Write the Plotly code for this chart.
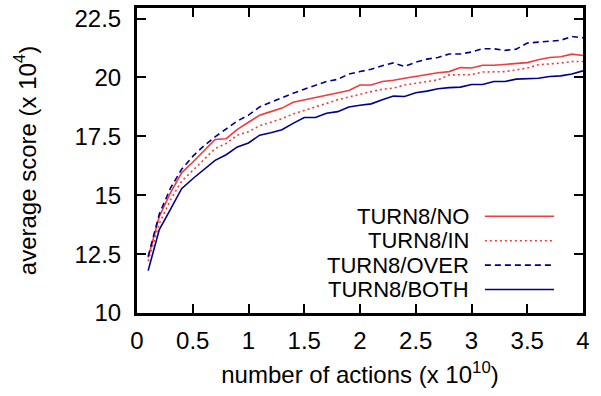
import plotly.graph_objects as go

x_vals = [round(0.1 * i, 1) for i in range(1, 41)]

turn8_no = [12.35, 14.1, 15.1, 15.95, 16.4, 16.9, 17.37, 17.4, 17.8, 18.1,
            18.4, 18.55, 18.7, 18.95, 19.05, 19.15, 19.25, 19.33, 19.45, 19.68,
            19.68, 19.83, 19.88, 19.97, 20.05, 20.15, 20.2, 20.25, 20.42, 20.4,
            20.52, 20.52, 20.55, 20.6, 20.63, 20.75, 20.85, 20.88, 20.99, 20.93]

turn8_in = [12.2, 13.8, 14.8, 15.6, 16.05, 16.5, 16.98, 17.2, 17.55, 17.7,
            17.95, 18.1, 18.25, 18.45, 18.6, 18.75, 18.92, 19.05, 19.17, 19.3,
            19.4, 19.5, 19.55, 19.68, 19.75, 19.82, 19.9, 20.11, 20.11, 20.12,
            20.23, 20.25, 20.25, 20.32, 20.4, 20.54, 20.57, 20.61, 20.68, 20.68]

turn8_over = [12.4, 14.2, 15.3, 16.1, 16.65, 17.1, 17.48, 17.8, 18.15, 18.4,
              18.75, 18.95, 19.15, 19.33, 19.5, 19.67, 19.83, 19.92, 20.15, 20.25,
              20.35, 20.5, 20.62, 20.47, 20.65, 20.78, 20.85, 21.0, 21.0, 21.08,
              21.22, 21.22, 21.15, 21.2, 21.46, 21.5, 21.53, 21.58, 21.74, 21.68]

turn8_both = [11.8, 13.54, 14.4, 15.28, 15.7, 16.1, 16.48, 16.72, 17.05, 17.22,
              17.55, 17.65, 17.78, 18.05, 18.3, 18.3, 18.48, 18.55, 18.75, 18.82,
              18.88, 19.05, 19.21, 19.19, 19.35, 19.42, 19.52, 19.57, 19.59, 19.7,
              19.7, 19.83, 19.83, 19.93, 19.95, 19.97, 20.04, 20.07, 20.15, 20.28]

series_names = ["TURN8/NO", "TURN8/IN", "TURN8/OVER", "TURN8/BOTH"]
series_values = [turn8_no, turn8_in, turn8_over, turn8_both]

x_tickvals = [0, 0.5, 1, 1.5, 2, 2.5, 3, 3.5, 4]
x_ticktext = ["0", "0.5", "1", "1.5", "2", "2.5", "3", "3.5", "4"]
y_tickvals = [10, 12.5, 15, 17.5, 20, 22.5]
y_ticktext = ["10", "12.5", "15", "17.5", "20", "22.5"]

RED = "#f03c3c"
BLUE = "#00008b"
styles = [
    dict(color=RED, dash="solid"),
    dict(color=RED, dash="2px,3px"),
    dict(color=BLUE, dash="6px,4px"),
    dict(color=BLUE, dash="solid"),
]

FONT = "Liberation Sans, Arial, Helvetica, sans-serif"
FS = 24
LEG_FS = 22

fig = go.Figure()
for name, vals, st in zip(series_names, series_values, styles):
    fig.add_trace(go.Scatter(x=x_vals, y=vals, mode="lines", name=name,
                             line=dict(color=st["color"], dash=st["dash"], width=1.6),
                             showlegend=False))

# manual gnuplot-style legend (text right, sample line to its right)
legend_rows_y = [0.317, 0.237, 0.157, 0.077]
for name, st, ly in zip(series_names, styles, legend_rows_y):
    fig.add_annotation(x=0.747, y=ly, xref="paper", yref="paper", text=name,
                       showarrow=False, xanchor="right", yanchor="middle",
                       borderpad=0,
                       font=dict(family=FONT, size=LEG_FS, color="black"))
    fig.add_shape(type="line", xref="paper", yref="paper",
                  x0=0.780, x1=0.935, y0=ly, y1=ly,
                  line=dict(color=st["color"], dash=st["dash"], width=1.6))

axis_common = dict(
    showline=True, linecolor="black", linewidth=3, mirror="ticks",
    ticks="inside", ticklen=9, tickwidth=1.5, tickcolor="black",
    showgrid=False, zeroline=False,
    tickfont=dict(family=FONT, size=FS, color="black"),
)

fig.update_xaxes(range=[0, 4], tickvals=x_tickvals, ticktext=x_ticktext,
                 ticklabelstandoff=4,
                 title=dict(text="number of actions (x 10<sup>10</sup>)",
                            font=dict(family=FONT, size=FS, color="black"),
                            standoff=14),
                 **axis_common)
fig.update_yaxes(range=[10, 22.95], tickvals=y_tickvals, ticktext=y_ticktext,
                 ticklabelstandoff=8,
                 title=dict(text="average score (x 10<sup>4</sup>)",
                            font=dict(family=FONT, size=FS, color="black"),
                            standoff=32),
                 **axis_common)

fig.update_layout(
    width=601, height=396,
    margin=dict(l=137, r=18, t=8, b=83, autoexpand=False),
    paper_bgcolor="white", plot_bgcolor="white",
    font=dict(family=FONT, size=FS, color="black"),
)

fig.write_html("out.html",
               config={"displayModeBar": False},
               post_script="document.body.style.margin='0';document.body.style.padding='0';")
